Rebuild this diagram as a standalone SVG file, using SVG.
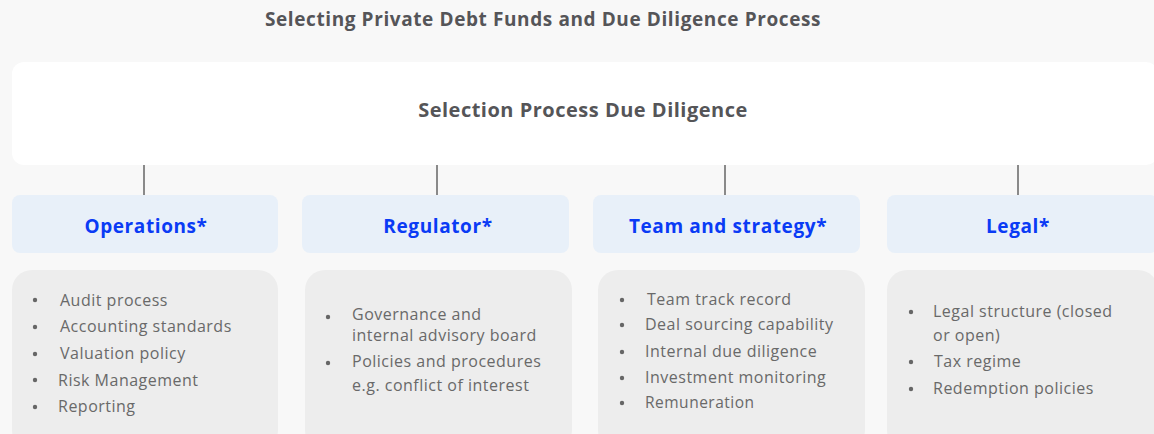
<svg xmlns="http://www.w3.org/2000/svg" width="1154" height="434" viewBox="0 0 1154 434">
  <style>
    .title { font-family: "Open Sans", "Noto Sans", sans-serif; font-weight: 700; font-size: 19px; letter-spacing: 0.6px; fill: #555558; }
    .hdr { fill: #E8F0F9; }
    .hdrtxt { font-family: "Open Sans", "Noto Sans", sans-serif; font-weight: 700; font-size: 19px; letter-spacing: 0.6px; fill: #0A3BF5; text-anchor: middle; }
    .body { fill: #EDEDED; }
    .item { font-family: "Open Sans", "Noto Sans", sans-serif; font-size: 16px; letter-spacing: 0.5px; fill: #696969; }
    .bul { fill: #666666; }
    .conn { stroke: #8A8A8A; stroke-width: 2; fill: none; }
  </style>
  <rect x="0" y="0" width="1154" height="434" fill="#F8F8F8"/>
  <text class="title" x="543" y="26" text-anchor="middle">Selecting Private Debt Funds and Due Diligence Process</text>

  <g id="root">
    <rect x="12" y="62" width="1146" height="103" rx="12" fill="#FFFFFF"/>
    <text class="title" x="583" y="117" text-anchor="middle" style="font-size:20px;letter-spacing:0.5px">Selection Process Due Diligence</text>
  </g>

  <g id="connectors">
    <line class="conn" x1="144" y1="165" x2="144" y2="195"/>
    <line class="conn" x1="437" y1="165" x2="437" y2="195"/>
    <line class="conn" x1="725" y1="165" x2="725" y2="195"/>
    <line class="conn" x1="1018" y1="165" x2="1018" y2="195"/>
  </g>

  <g id="operations">
    <rect class="hdr" x="12" y="195" width="266" height="58" rx="8"/>
    <text class="hdrtxt" x="146" y="233">Operations*</text>
    <rect class="body" x="12" y="270" width="266" height="180" rx="20"/>
    <circle class="bul" cx="35" cy="300" r="2.2"/>
    <circle class="bul" cx="35" cy="327" r="2.2"/>
    <circle class="bul" cx="35" cy="354" r="2.2"/>
    <circle class="bul" cx="35" cy="380" r="2.2"/>
    <circle class="bul" cx="35" cy="407" r="2.2"/>
    <text class="item" x="60" y="306">Audit process</text>
    <text class="item" x="60" y="332">Accounting standards</text>
    <text class="item" x="60" y="359">Valuation policy</text>
    <text class="item" x="58" y="386">Risk Management</text>
    <text class="item" x="58" y="412">Reporting</text>
  </g>

  <g id="regulator">
    <rect class="hdr" x="302" y="195" width="267" height="58" rx="8"/>
    <text class="hdrtxt" x="438" y="233">Regulator*</text>
    <rect class="body" x="305" y="270" width="267" height="180" rx="20"/>
    <circle class="bul" cx="328" cy="317" r="2.2"/>
    <circle class="bul" cx="328" cy="363" r="2.2"/>
    <text class="item" x="352" y="320">Governance and</text>
    <text class="item" x="352" y="341">internal advisory board</text>
    <text class="item" x="352" y="367">Policies and procedures</text>
    <text class="item" x="352" y="391">e.g. conflict of interest</text>
  </g>

  <g id="team">
    <rect class="hdr" x="593" y="195" width="267" height="58" rx="8"/>
    <text class="hdrtxt" x="728" y="233">Team and strategy*</text>
    <rect class="body" x="598" y="270" width="267" height="180" rx="20"/>
    <circle class="bul" cx="622" cy="300" r="2.2"/>
    <circle class="bul" cx="622" cy="325" r="2.2"/>
    <circle class="bul" cx="622" cy="352" r="2.2"/>
    <circle class="bul" cx="622" cy="378" r="2.2"/>
    <circle class="bul" cx="622" cy="403" r="2.2"/>
    <text class="item" x="647" y="305">Team track record</text>
    <text class="item" x="645" y="330">Deal sourcing capability</text>
    <text class="item" x="645" y="357">Internal due diligence</text>
    <text class="item" x="645" y="383">Investment monitoring</text>
    <text class="item" x="645" y="408" style="font-size:15.5px">Remuneration</text>
  </g>

  <g id="legal">
    <rect class="hdr" x="887" y="195" width="271" height="58" rx="8"/>
    <text class="hdrtxt" x="1018" y="233">Legal*</text>
    <rect class="body" x="887" y="270" width="271" height="180" rx="20"/>
    <circle class="bul" cx="911" cy="312" r="2.2"/>
    <circle class="bul" cx="911" cy="362" r="2.2"/>
    <circle class="bul" cx="911" cy="389" r="2.2"/>
    <text class="item" x="933" y="317">Legal structure (closed</text>
    <text class="item" x="933" y="341">or open)</text>
    <text class="item" x="934" y="367">Tax regime</text>
    <text class="item" x="933" y="394">Redemption policies</text>
  </g>
</svg>
